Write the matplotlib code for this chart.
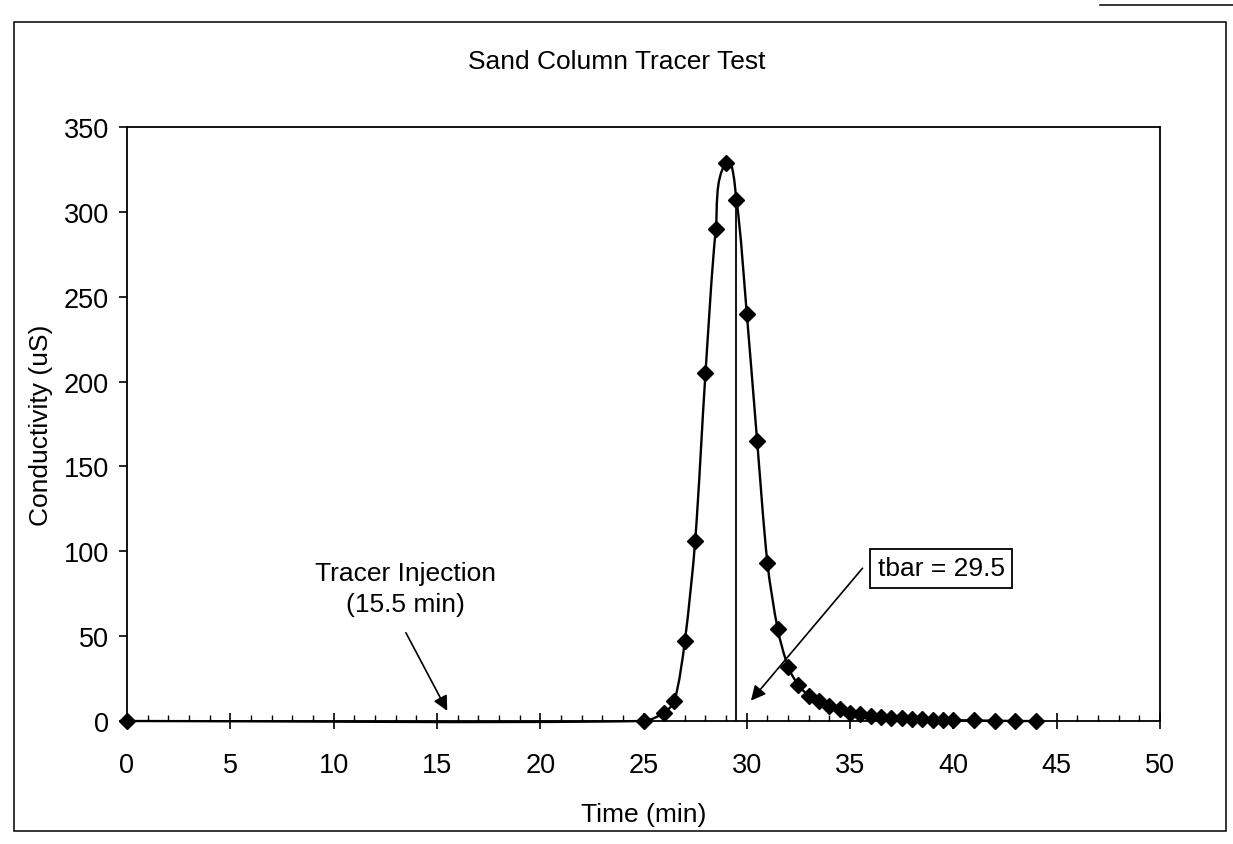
import numpy as np
import matplotlib
matplotlib.use("Agg")
import matplotlib.pyplot as plt
from matplotlib.path import Path
from matplotlib.patches import PathPatch, Rectangle
from matplotlib.lines import Line2D
from matplotlib.ticker import MultipleLocator

# Sand column tracer test - breakthrough curve
time_min = [0, 25, 26, 26.5, 27, 27.5, 28, 28.5, 29, 29.5,
            30, 30.5, 31, 31.5, 32, 32.5, 33, 33.5, 34, 34.5,
            35, 35.5, 36, 36.5, 37, 37.5, 38, 38.5, 39, 39.5,
            40, 41, 42, 43, 44]
conductivity = [0, 0, 5, 12, 47, 106, 205, 290, 329, 307,
                240, 165, 93, 54, 32, 21, 15, 12, 9, 7,
                5, 4, 3, 2.5, 2, 1.5, 1.2, 1, 0.8, 0.6,
                0.5, 0.3, 0.2, 0, 0]

TBAR = 29.5
INJECTION = 15.5

plt.rcParams.update({
    "font.family": ["Liberation Sans", "DejaVu Sans"],
    "font.size": 19,
})

W, H = 1233, 845
fig = plt.figure(figsize=(W / 100, H / 100), dpi=100)
ax = fig.add_axes([127 / W, 1 - 722 / H, 1033 / W, 594 / H])

ax.set_xlim(0, 50)
ax.set_ylim(0, 350)


def smooth_path(ax, xs, ys, k=0.3):
    # Excel-like smoothed line, built in screen space then mapped back to data
    pts = ax.transData.transform(np.column_stack([xs, ys]))
    n = len(pts)
    tang = np.zeros_like(pts)
    for i in range(n):
        d = pts[min(i + 1, n - 1)] - pts[max(i - 1, 0)]
        tang[i] = d / np.hypot(*d)
    verts = [pts[0]]
    codes = [Path.MOVETO]
    for i in range(n - 1):
        seg = np.hypot(*(pts[i + 1] - pts[i]))
        verts += [pts[i] + tang[i] * seg * k,
                  pts[i + 1] - tang[i + 1] * seg * k,
                  pts[i + 1]]
        codes += [Path.CURVE4] * 3
    verts = ax.transData.inverted().transform(np.array(verts))
    return Path(verts, codes)


ax.add_patch(PathPatch(smooth_path(ax, time_min, conductivity), fill=False,
                       edgecolor="black", lw=1.7, zorder=3, clip_on=False))
ax.plot(time_min, conductivity, linestyle="none", marker="D", markersize=8.5,
        color="black", zorder=4, clip_on=False)

# tbar vertical line up to the curve
ax.vlines(TBAR, 0, conductivity[time_min.index(TBAR)], color="black", lw=1.3, zorder=2)

# axes styling
for s in ax.spines.values():
    s.set_linewidth(1.3)
ax.xaxis.set_major_locator(MultipleLocator(5))
ax.xaxis.set_minor_locator(MultipleLocator(1))
ax.yaxis.set_major_locator(MultipleLocator(50))
ax.tick_params(axis="x", which="major", direction="inout", length=12, width=1.2, pad=16)
ax.tick_params(axis="x", which="minor", direction="in", length=4.5, width=1.0)
ax.tick_params(axis="y", which="major", direction="out", length=6, width=1.2, pad=7)
ax.tick_params(labelsize=19.5)

ax.set_xlabel("Time (min)", fontsize=19)
ax.xaxis.set_label_coords(0.5, -0.136)
ax.set_ylabel("Conductivity (uS)", fontsize=19)
ax.yaxis.set_label_coords(-0.072, 0.5)

fig.text(617 / W, 1 - 62 / H, "Sand Column Tracer Test", ha="center", va="center", fontsize=19)

# annotations
ax.text(13.5, 78, "Tracer Injection\n(15.5 min)", ha="center", va="center",
        fontsize=19, linespacing=1.35)
ax.annotate("", xy=(INJECTION, 6), xytext=(13.5, 52),
            arrowprops=dict(arrowstyle="-|>", color="black", lw=1.2,
                            mutation_scale=22, shrinkA=0, shrinkB=0))

ax.text(39.4, 90, f"tbar = {TBAR}", ha="center", va="center", fontsize=19,
        bbox=dict(boxstyle="square,pad=0.28", facecolor="white", edgecolor="black", lw=1.3))
ax.annotate("", xy=(30.2, 12), xytext=(35.6, 90),
            arrowprops=dict(arrowstyle="-|>", color="black", lw=1.2,
                            mutation_scale=22, shrinkA=0, shrinkB=0))

# outer chart border
fig.add_artist(Rectangle((14 / W, 13 / H), (1226 - 14) / W, (822 - 13) / H,
                         transform=fig.transFigure, fill=False, edgecolor="black", lw=1.1))
fig.add_artist(Line2D([1100 / W, 1], [1 - 6 / H, 1 - 6 / H], transform=fig.transFigure,
                      color="black", lw=1.1))

fig.savefig("out.png", dpi=100)
